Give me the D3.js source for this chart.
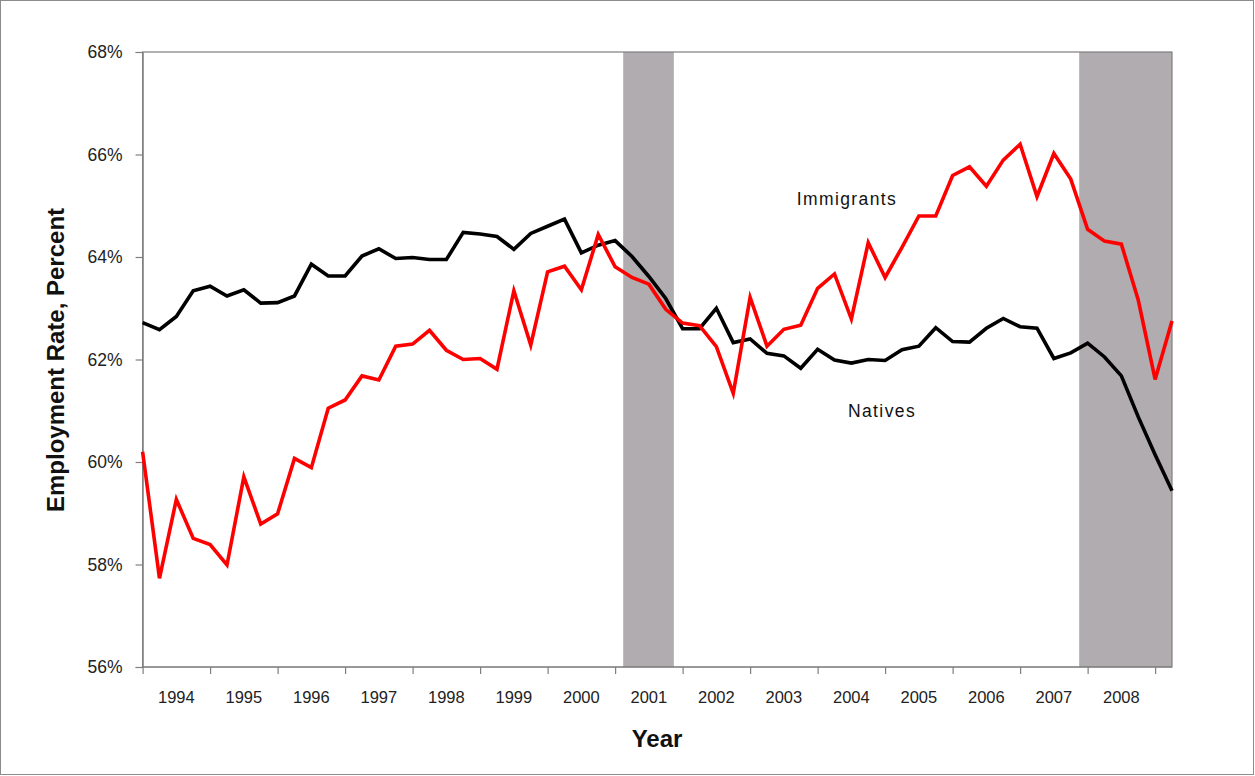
<!DOCTYPE html>
<html>
<head>
<meta charset="utf-8">
<script src="https://cdn.jsdelivr.net/npm/d3@7"></script>
<style>
  body { margin: 0; background: #fff; }
  svg { display: block; font-family: Arial, "Liberation Sans", sans-serif; }
</style>
</head>
<body>
<svg id="chart" width="1255" height="776"></svg>
<script>
// Quarterly data, 1994Q1 .. 2009Q2
const startYear = 1994;
const quarters = d3.range(62).map(i => startYear + i / 4);
const immigrants = [
  60.20, 57.73, 59.27, 58.51, 58.39, 57.99, 59.71, 58.79, 58.99, 60.07,
  59.89, 61.05, 61.21, 61.68, 61.60, 62.26, 62.30, 62.57, 62.18, 62.00,
  62.02, 61.81, 63.34, 62.28, 63.71, 63.82, 63.36, 64.44, 63.81, 63.60,
  63.47, 62.98, 62.71, 62.66, 62.25, 61.34, 63.21, 62.26, 62.59, 62.67,
  63.39, 63.67, 62.79, 64.28, 63.60, 64.19, 64.80, 64.80, 65.59, 65.76,
  65.38, 65.89, 66.20, 65.18, 66.02, 65.52, 64.54, 64.31, 64.25, 63.16,
  61.61, 62.75
];
const natives = [
  62.72, 62.58, 62.84, 63.34, 63.43, 63.24, 63.36, 63.10, 63.11, 63.24,
  63.86, 63.63, 63.63, 64.02, 64.16, 63.97, 63.99, 63.95, 63.95, 64.48,
  64.45, 64.40, 64.15, 64.46, 64.60, 64.74, 64.08, 64.23, 64.32, 64.01,
  63.62, 63.19, 62.60, 62.60, 63.00, 62.33, 62.40, 62.12, 62.07, 61.83,
  62.20, 61.99, 61.93, 62.00, 61.98, 62.19, 62.26, 62.62, 62.35, 62.34,
  62.61, 62.80, 62.64, 62.61, 62.02, 62.13, 62.32, 62.05, 61.68, 60.88,
  60.14, 59.44
];
const yearLabels = d3.range(1994, 2009).map(String);
const yTicks = [56, 58, 60, 62, 64, 66, 68];
const recessions = [[2001.12, 2001.87], [2007.875, 2009.25]];
const seriesNames = ["Immigrants", "Natives"];

const svg = d3.select("#chart");
const W = 1255, H = 776;
const m = { left: 142.6, right: 1172, top: 52, bottom: 667 };

svg.append("rect").attr("x", 0.5).attr("y", 0.5).attr("width", W - 2).attr("height", H - 2)
  .attr("fill", "#fff").attr("stroke", "#8c8c8c").attr("stroke-width", 1);

const x = d3.scaleLinear().domain([startYear, quarters[quarters.length - 1]]).range([m.left, m.right]);
const y = d3.scaleLinear().domain([56, 68]).range([m.bottom, m.top]);

// plot area
svg.append("rect").attr("x", m.left).attr("y", m.top)
  .attr("width", m.right - m.left).attr("height", m.bottom - m.top)
  .attr("fill", "#fff");

// recession shading
svg.selectAll("rect.rec").data(recessions).enter().append("rect")
  .attr("class", "rec")
  .attr("x", d => x(d[0]))
  .attr("y", m.top)
  .attr("width", d => Math.min(x(d[1]), m.right) - x(d[0]))
  .attr("height", m.bottom - m.top)
  .attr("fill", "#b0acb0");

// plot border
svg.append("rect").attr("x", m.left).attr("y", m.top)
  .attr("width", m.right - m.left).attr("height", m.bottom - m.top)
  .attr("fill", "none").attr("stroke", "#7f7f7f").attr("stroke-width", 1.2);

// y axis
const yAxis = d3.axisLeft(y).tickValues(yTicks).tickFormat(d => d + "%").tickSize(7).tickPadding(13);
const gy = svg.append("g").attr("transform", `translate(${m.left},0)`).call(yAxis);
gy.select(".domain").attr("stroke", "#7f7f7f").attr("stroke-width", 1.2);
gy.selectAll(".tick line").attr("stroke", "#7f7f7f").attr("stroke-width", 1.2);
gy.selectAll(".tick text").attr("font-size", 17.5).attr("fill", "#222")
  .attr("font-family", "Arial, 'Liberation Sans', sans-serif");

// x axis ticks at year boundaries
const tickYears = d3.range(1994, 2010);
const xAxis = d3.axisBottom(x).tickValues(tickYears).tickFormat("").tickSize(7);
const gx = svg.append("g").attr("transform", `translate(0,${m.bottom})`).call(xAxis);
gx.select(".domain").remove();
gx.selectAll(".tick line").attr("stroke", "#7f7f7f").attr("stroke-width", 1.2);
svg.append("line").attr("x1", m.left).attr("x2", m.right).attr("y1", m.bottom).attr("y2", m.bottom)
  .attr("stroke", "#7f7f7f").attr("stroke-width", 1.2);

svg.append("g").selectAll("text").data(yearLabels).enter().append("text")
  .attr("x", d => x(+d + 0.5))
  .attr("y", 703)
  .attr("text-anchor", "middle")
  .attr("font-size", 16.5)
  .attr("fill", "#222")
  .text(d => d);

// axis titles
svg.append("text").attr("x", 657).attr("y", 747).attr("text-anchor", "middle")
  .attr("font-size", 24).attr("font-weight", "bold").attr("fill", "#111").text("Year");
svg.append("text").attr("transform", "translate(64,360) rotate(-90)")
  .attr("text-anchor", "middle").attr("font-size", 24).attr("font-weight", "bold")
  .attr("fill", "#111").text("Employment Rate, Percent");

// lines
const line = d3.line().x((d, i) => x(quarters[i])).y(d => y(d));
svg.append("path").datum(natives).attr("d", line)
  .attr("fill", "none").attr("stroke", "#000").attr("stroke-width", 3.6)
  .attr("stroke-linejoin", "miter");
svg.append("path").datum(immigrants).attr("d", line)
  .attr("fill", "none").attr("stroke", "#ff0000").attr("stroke-width", 3.6)
  .attr("stroke-linejoin", "miter");

// labels
svg.append("text").attr("x", 847).attr("y", 205).attr("text-anchor", "middle")
  .attr("font-size", 17.5).attr("letter-spacing", 1.4).attr("fill", "#111").text(seriesNames[0]);
svg.append("text").attr("x", 882).attr("y", 417).attr("text-anchor", "middle")
  .attr("font-size", 17.5).attr("letter-spacing", 1.4).attr("fill", "#111").text(seriesNames[1]);
</script>
</body>
</html>
